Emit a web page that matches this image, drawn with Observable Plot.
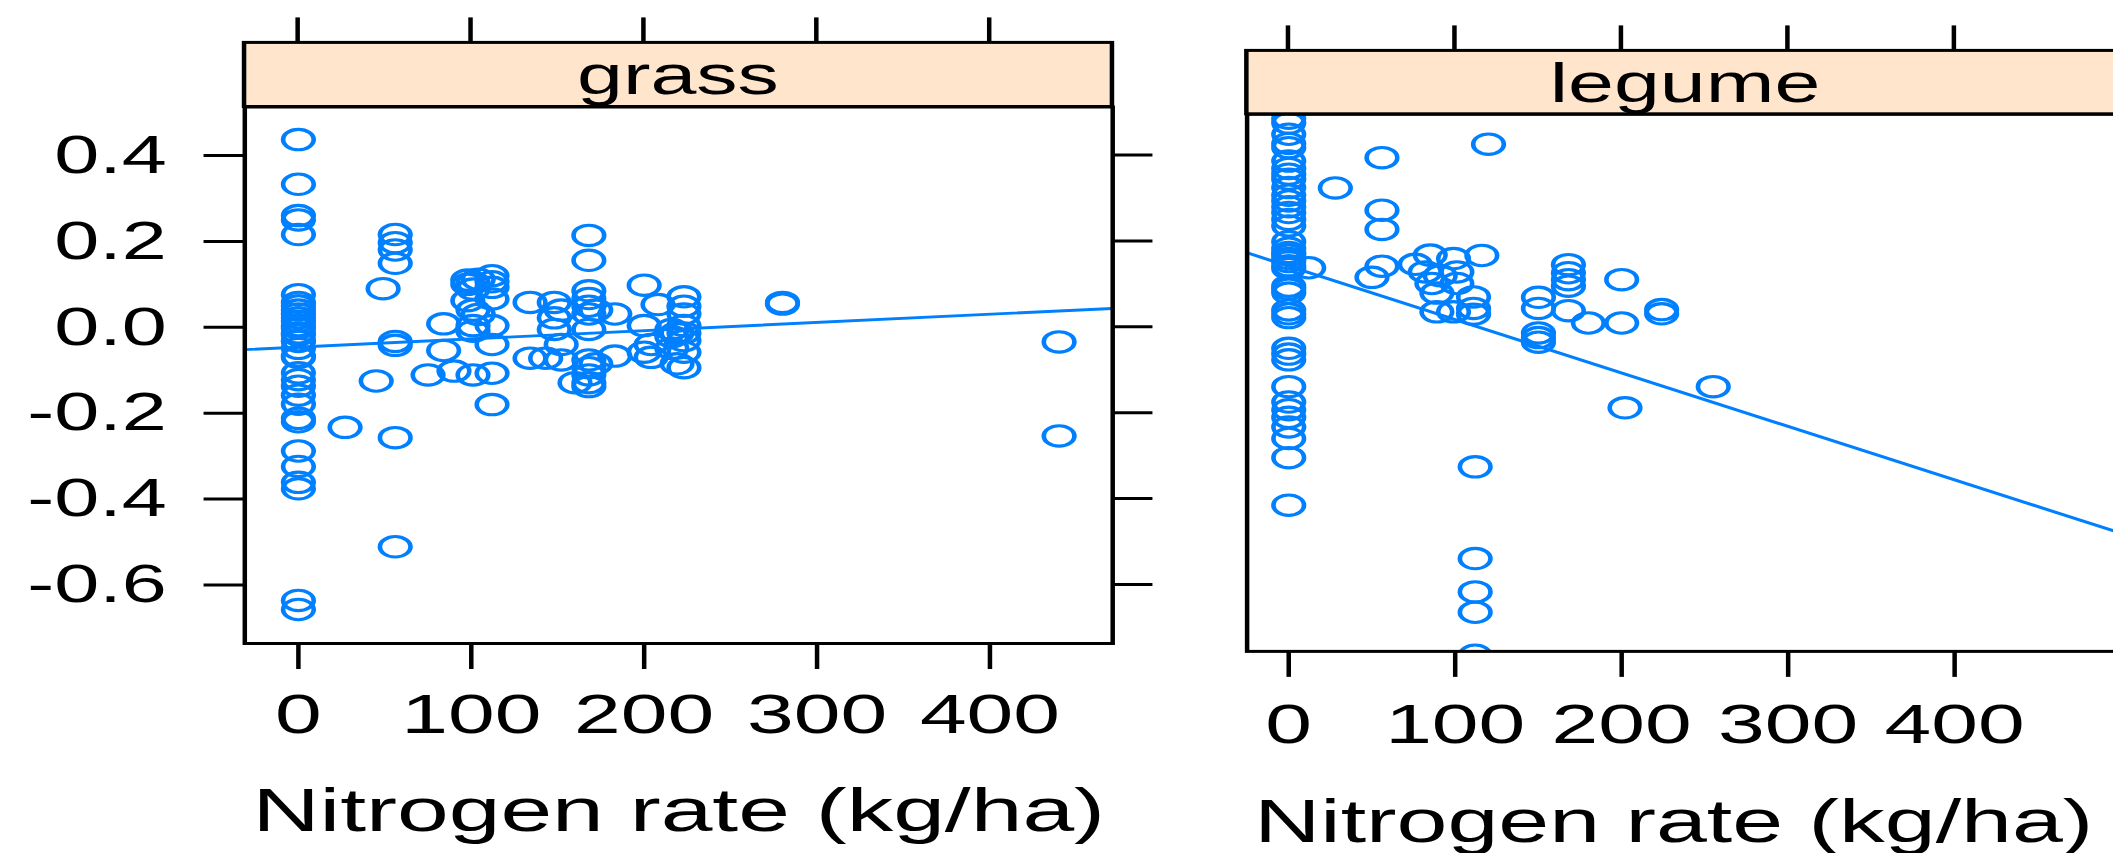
<!DOCTYPE html>
<html>
<head>
<meta charset="utf-8">
<script src="https://cdn.jsdelivr.net/npm/d3@7"></script>
<script src="https://cdn.jsdelivr.net/npm/@observablehq/plot@0.6"></script>
<style>
  html, body { margin: 0; padding: 0; background: #fff; overflow: hidden; }
  #viewport { position: relative; width: 2113px; height: 853px; overflow: hidden; background: #fff; }
  #stretch { position: absolute; left: 0; top: 0; width: 1700px; height: 853px; transform: scaleX(1.5); transform-origin: 0 0; }
  .panel { position: absolute; top: 0; }
  .panel svg { max-width: none !important; }
</style>
</head>
<body>
<div id="viewport">
  <div id="stretch">
    <div id="grass" class="panel" style="left:0px; width:780px"></div>
    <div id="legume" class="panel" style="left:786.67px; width:668.8px"></div>
  </div>
</div>
<script>
// ---------------- data ----------------
const panelLabels = ["grass", "legume"];
const xTitle = "Nitrogen rate (kg/ha)";
const xTicks = [0, 100, 200, 300, 400];
const yTicks = [-0.6, -0.4, -0.2, 0.0, 0.2, 0.4];

// grass panel: nitrogen rate and residual value
const grassN = [
  0,0,0,0,0,0,0,0,0,0,0,0,0,0,0,0,0,0,0,0,0,0,0,0,0,0,0,0,0,0,0,0,0,0,
  27,45,49,
  56,56,56,56,56,56,56,56,
  75,84,84,90,
  98,98,98,
  101,101,101,101,101,101,
  104,104,
  112,112,112,112,112,112,112,112,
  134,134,143,
  148,148,148,
  152,152,152,
  160,
  168,168,168,168,168,168,168,168,168,168,168,168,
  172,172,
  183,183,
  200,200,200,
  204,204,
  208,
  216,216,216,
  219,219,
  223,223,223,223,223,223,223,223,
  280,280,
  440,440
];
const grassV = [
  0.437,0.333,0.260,0.250,0.216,0.076,0.058,0.050,0.040,0.031,0.022,0.014,0.004,-0.002,-0.013,-0.018,-0.031,-0.033,-0.049,-0.067,-0.070,-0.106,-0.122,-0.137,-0.158,-0.179,-0.212,-0.220,-0.288,-0.324,-0.361,-0.376,-0.636,-0.657,
  -0.233,-0.125,0.090,
  0.216,0.197,0.180,0.149,-0.033,-0.042,-0.257,-0.511,
  -0.111,0.008,-0.054,-0.102,
  0.110,0.100,0.062,
  0.104,0.089,0.040,0.004,-0.009,-0.111,
  0.112,0.030,
  0.120,0.106,0.093,0.066,0.004,-0.040,-0.107,-0.180,
  0.058,-0.072,-0.072,
  0.058,0.022,-0.005,
  0.040,-0.040,-0.076,
  -0.129,
  0.214,0.156,0.085,0.067,0.049,0.031,-0.005,-0.076,-0.094,-0.111,-0.129,-0.138,
  -0.085,0.040,
  0.031,-0.067,
  0.098,0.004,-0.058,
  -0.040,-0.070,
  0.053,
  -0.005,-0.022,-0.049,
  -0.013,-0.085,
  0.071,0.049,0.031,0.004,-0.013,-0.031,-0.058,-0.094,
  0.058,0.054,
  -0.034,-0.253
];
// fitted line of the grass panel (read at the panel edges)
const grassFitN = [-31, 471];
const grassFitV = [-0.052, 0.044];

// legume panel
const legumeN = [
  0,0,0,0,0,0,0,0,0,0,0,0,0,0,0,0,0,0,0,0,0,0,0,0,0,0,0,0,0,0,0,0,0,0,0,0,0,0,0,0,0,
  12,28,50,
  56,56,56,56,
  76,82,85,86,89,89,91,99,99,101,101,
  111,111,111,
  112,112,112,112,112,
  116,120,
  150,150,150,150,150,
  168,168,168,168,168,
  180,200,200,202,224,224,255
];
const legumeV = [
  0.590,0.577,0.548,0.524,0.513,0.478,0.459,0.444,0.431,0.409,0.389,0.374,0.359,0.344,0.326,0.309,0.268,0.251,0.240,0.233,0.224,0.216,0.205,0.198,0.152,0.144,0.134,0.090,0.080,0.070,-0.010,-0.025,-0.040,-0.110,-0.150,-0.170,-0.190,-0.215,-0.245,-0.295,-0.419,
  0.200,0.408,0.175,
  0.487,0.350,0.300,0.204,
  0.209,0.189,0.233,0.159,0.134,0.085,0.179,0.224,0.085,0.189,0.159,
  0.124,0.094,0.079,
  -0.319,-0.558,-0.645,-0.698,-0.810,
  0.232,0.522,
  0.123,0.094,0.030,0.018,0.006,
  0.208,0.187,0.169,0.152,0.088,
  0.056,0.169,0.056,-0.165,0.091,0.080,-0.110
];
const legumeFitN = [-25, 502];
const legumeFitV = [0.239, -0.495];

// ---------------- drawing ----------------
const FONT = "'Liberation Sans', Arial, Helvetica, sans-serif";
const BLUE = "#0080ff";
const STRIP = "#ffe5cc";

function rows(ns, vs) { return ns.map((n, i) => ({n, v: vs[i]})); }

function makePanel(cfg) {
  const pts = rows(cfg.N, cfg.V);
  const fit = rows(cfg.fitN, cfg.fitV);
  const marks = [
    Plot.dot(pts, {x: "n", y: "v", r: 10.2, stroke: BLUE, strokeWidth: 3.1, fill: "none", clip: true}),
    Plot.line(fit, {x: "n", y: "v", stroke: BLUE, strokeWidth: 2.9, clip: true}),
    Plot.frame({stroke: "black", strokeWidth: 3}),
    Plot.axisX({anchor: "bottom", ticks: xTicks, tickSize: 26, tickPadding: cfg.xPad, tickFormat: d => String(d),
                fontSize: 56, label: null, strokeWidth: 3}),
    Plot.text([xTitle], {frameAnchor: "bottom", dx: cfg.titleDx, dy: cfg.titleDy, lineAnchor: "top",
                         fontSize: cfg.titleSize, fill: "black"})
  ];
  if (cfg.yLabels) {
    marks.push(Plot.axisY({anchor: "left", ticks: yTicks, tickSize: 27, tickPadding: 25,
                           tickFormat: d => d.toFixed(1), fontSize: 54, label: null, strokeWidth: 3}));
  }
  const plot = Plot.plot({
    width: cfg.width, height: 853,
    marginLeft: cfg.ml, marginRight: cfg.mr, marginTop: cfg.mt, marginBottom: cfg.mb,
    x: {domain: cfg.xDomain, label: null},
    y: {domain: cfg.yDomain, label: null, axis: cfg.yLabels ? undefined : null},
    style: {fontFamily: FONT, color: "black", background: "transparent", overflow: "visible", maxWidth: "none"},
    marks
  });
  const sx = plot.scale("x"), sy = plot.scale("y");
  const svg = d3.select(plot);
  const x0 = cfg.ml, x1 = cfg.width - cfg.mr;
  const stripTop = cfg.mt - cfg.stripH;
  const g = svg.append("g");
  // strip
  g.append("rect").attr("x", x0).attr("y", stripTop).attr("width", x1 - x0).attr("height", cfg.stripH)
    .attr("fill", STRIP).attr("stroke", "black").attr("stroke-width", 3);
  g.append("text").text(cfg.label).attr("x", (x0 + x1) / 2).attr("y", cfg.mt - 12)
    .attr("text-anchor", "middle").attr("font-size", 55).attr("font-family", FONT).attr("fill", "black");
  // top ticks above the strip
  xTicks.forEach(t => {
    const px = sx.apply(t);
    g.append("line").attr("x1", px).attr("x2", px).attr("y1", stripTop - 25).attr("y2", stripTop)
      .attr("stroke", "black").attr("stroke-width", 3);
  });
  // right-side ticks
  if (cfg.rightTicks) {
    yTicks.forEach(t => {
      const py = sy.apply(t);
      g.append("line").attr("x1", x1).attr("x2", x1 + 27).attr("y1", py).attr("y2", py)
        .attr("stroke", "black").attr("stroke-width", 3);
    });
  }
  return plot;
}

document.getElementById("grass").appendChild(makePanel({
  label: panelLabels[0], N: grassN, V: grassV, fitN: grassFitN, fitV: grassFitV,
  width: 780, ml: 162.7, mr: 38.7, mt: 106.5, mb: 210, stripH: 64.1,
  xDomain: [-31, 471], yDomain: [-0.7362, 0.5129],
  xPad: 24, titleDx: 0, titleDy: 143, titleSize: 62, yLabels: true, rightTicks: true
}));

document.getElementById("legume").appendChild(makePanel({
  label: panelLabels[1], N: legumeN, V: legumeV, fitN: legumeFitN, fitV: legumeFitV,
  width: 668.8, ml: 43.9, mr: 40, mt: 113.8, mb: 202.1, stripH: 63.4,
  xDomain: [-25, 502], yDomain: [-0.8, 0.6],
  xPad: 26, titleDx: -8, titleDy: 147, titleSize: 61, yLabels: false, rightTicks: false
}));
</script>
</body>
</html>
